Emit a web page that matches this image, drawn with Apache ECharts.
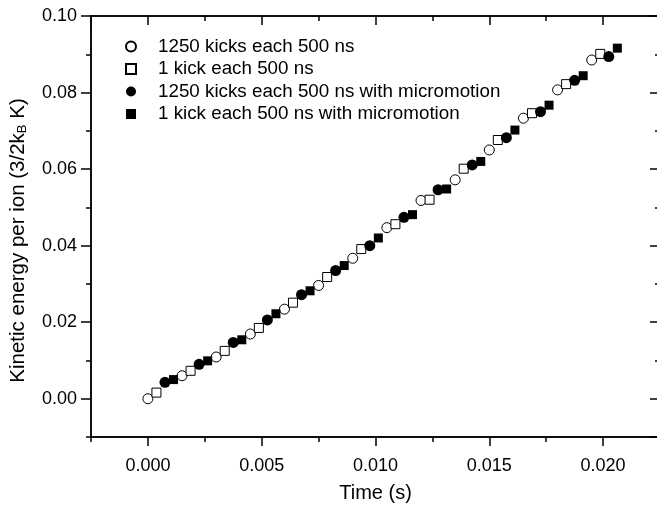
<!DOCTYPE html>
<html>
<head>
<meta charset="utf-8">
<script src="https://cdn.jsdelivr.net/npm/echarts@6/dist/echarts.min.js"></script>
<style>
  html, body { margin: 0; padding: 0; background: #fff; }
  #chart { width: 657px; height: 505px; }
</style>
</head>
<body>
<div id="chart"></div>
<script>
// time (s) of each sample, per series
var openCircleX = [0, 0.0015, 0.003, 0.0045, 0.006, 0.0075, 0.009, 0.0105, 0.012, 0.0135, 0.015, 0.0165, 0.018, 0.0195];
var openSquareX = [0.000375, 0.001875, 0.003375, 0.004875, 0.006375, 0.007875, 0.009375, 0.010875, 0.012375, 0.013875, 0.015375, 0.016875, 0.018375, 0.019875];
var fullCircleX = [0.00075, 0.00225, 0.00375, 0.00525, 0.00675, 0.00825, 0.00975, 0.01125, 0.01275, 0.01425, 0.01575, 0.01725, 0.01875, 0.02025];
var fullSquareX = [0.001125, 0.002625, 0.004125, 0.005625, 0.007125, 0.008625, 0.010125, 0.011625, 0.013125, 0.014625, 0.016125, 0.017625, 0.019125, 0.020625];

// kinetic energy per ion (3/2 kB K)
var openCircleY = [0.0000, 0.0060, 0.0109, 0.0169, 0.0234, 0.0296, 0.0367, 0.0447, 0.0518, 0.0572, 0.0650, 0.0733, 0.0807, 0.0885];
var openSquareY = [0.0016, 0.0073, 0.0125, 0.0185, 0.0251, 0.0318, 0.0391, 0.0456, 0.0520, 0.0601, 0.0676, 0.0746, 0.0822, 0.0901];
var fullCircleY = [0.0043, 0.0090, 0.0147, 0.0206, 0.0272, 0.0335, 0.0400, 0.0474, 0.0546, 0.0611, 0.0682, 0.0750, 0.0832, 0.0894];
var fullSquareY = [0.0050, 0.0099, 0.0154, 0.0222, 0.0282, 0.0348, 0.0420, 0.0481, 0.0548, 0.0620, 0.0702, 0.0767, 0.0844, 0.0916];

var seriesNames = [
    '1250 kicks each 500 ns',
    '1 kick each 500 ns',
    '1250 kicks each 500 ns with micromotion',
    '1 kick each 500 ns with micromotion'
];

var X_MIN = -0.0025, X_MAX = 0.0225;
var Y_MIN = -0.01, Y_MAX = 0.10;

var fontFamily = 'Liberation Sans, Arial, Helvetica, sans-serif';
var lineStyle = { color: '#000', width: 1.5 };

function pairs(xs, ys) {
    return xs.map(function (x, i) { return [x, ys[i]]; });
}

// builds one axis; "major" axes get long ticks, "minor" axes short ones
function xAx(pos, major, extra) {
    var ax = {
        type: 'value',
        position: pos,
        min: X_MIN,
        max: X_MAX,
        axisLine: { show: true, onZero: false, lineStyle: lineStyle },
        axisTick: { show: true, inside: pos === 'top', length: major ? 9 : 5, lineStyle: lineStyle },
        axisLabel: { show: false },
        splitLine: { show: false }
    };
    if (!major) ax.interval = 0.0025;
    else ax.splitNumber = 5;
    return Object.assign(ax, extra || {});
}

function yAx(pos, major, extra) {
    var ax = {
        type: 'value',
        position: pos,
        min: Y_MIN,
        max: Y_MAX,
        axisLine: { show: true, onZero: false, lineStyle: lineStyle },
        axisTick: { show: true, inside: pos === 'right', length: major ? 10 : 5, lineStyle: lineStyle },
        axisLabel: { show: false },
        splitLine: { show: false }
    };
    if (!major) ax.interval = 0.01;
    else ax.splitNumber = 5;
    return Object.assign(ax, extra || {});
}

var chart = echarts.init(document.getElementById('chart'));

var option = {
    backgroundColor: '#fff',
    animation: false,
    textStyle: { fontFamily: fontFamily, color: '#000' },
    grid: { left: 91, top: 16, width: 569, height: 421, containLabel: false, outerBoundsMode: 'none' },
    legend: {
        orient: 'vertical',
        left: 120,
        top: 32,
        itemWidth: 10,
        itemHeight: 10,
        itemGap: 3.5,
        data: seriesNames,
        textStyle: { fontSize: 18.8, color: '#000', fontFamily: fontFamily, lineHeight: 18, padding: [0, 0, 0, 17] }
    },
    xAxis: [
        xAx('bottom', true, {
            name: 'Time (s)',
            nameLocation: 'middle',
            nameGap: 46,
            nameTextStyle: { fontSize: 20, color: '#000', fontFamily: fontFamily },
            axisLabel: {
                show: true, fontSize: 18, color: '#000', margin: 20,
                showMinLabel: false, showMaxLabel: false,
                formatter: function (v) { return v.toFixed(3); }
            }
        }),
        xAx('bottom', false),
        xAx('top', true),
        xAx('top', false)
    ],
    yAxis: [
        yAx('left', true, {
            name: '{n|Kinetic energy per ion (3/2k}{s|B}{n| K)}',
            nameLocation: 'middle',
            nameGap: 62,
            nameTextStyle: {
                padding: [0, 28, 0, 0],
                rich: {
                    n: { fontSize: 20.5, color: '#000', fontFamily: fontFamily, lineHeight: 21, verticalAlign: 'top' },
                    s: { fontSize: 13, color: '#000', fontFamily: fontFamily, lineHeight: 13, verticalAlign: 'bottom', padding: [8, 0, 0, 0] }
                }
            },
            axisLabel: {
                show: true, fontSize: 18, color: '#000', margin: 14,
                showMinLabel: false,
                formatter: function (v) { return v.toFixed(2); }
            }
        }),
        yAx('left', false),
        yAx('right', true),
        yAx('right', false)
    ],
    series: [
        {
            name: seriesNames[0], type: 'scatter', symbol: 'circle', symbolSize: 10,
            itemStyle: { color: '#fff', borderColor: '#000', borderWidth: 1, opacity: 1 },
            data: pairs(openCircleX, openCircleY)
        },
        {
            name: seriesNames[1], type: 'scatter', symbol: 'rect', symbolSize: 9,
            itemStyle: { color: '#fff', borderColor: '#000', borderWidth: 1, opacity: 1 },
            data: pairs(openSquareX, openSquareY)
        },
        {
            name: seriesNames[2], type: 'scatter', symbol: 'circle', symbolSize: 11,
            itemStyle: { color: '#000', opacity: 1 },
            data: pairs(fullCircleX, fullCircleY)
        },
        {
            name: seriesNames[3], type: 'scatter', symbol: 'rect', symbolSize: 9,
            itemStyle: { color: '#000', opacity: 1 },
            data: pairs(fullSquareX, fullSquareY)
        }
    ]
};

chart.setOption(option);
</script>
</body>
</html>
